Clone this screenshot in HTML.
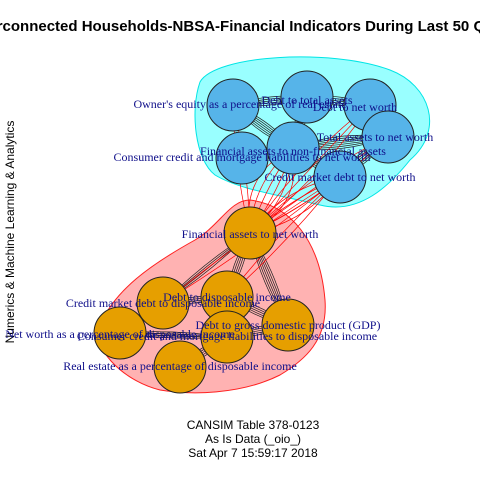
<!DOCTYPE html>
<html><head><meta charset="utf-8"><style>
body{margin:0;background:#fff;width:480px;height:480px;overflow:hidden}
svg{display:block}
.lab{font-family:"Liberation Serif",serif;font-size:12px;fill:#10108a;text-anchor:middle}
.t{font-family:"Liberation Sans",sans-serif}
</style></head><body>
<svg id="g" width="480" height="480">
<text class="t" x="253" y="31" font-size="15" font-weight="bold" text-anchor="middle">Interconnected Households-NBSA-Financial Indicators During Last 50 Quarters</text>
<text class="t" x="14" y="232" font-size="12" text-anchor="middle" transform="rotate(-90 14 232)">Numerics &amp; Machine Learning &amp; Analytics</text>
<path d="M200,82 C215,55 330,48 390,70 C430,85 445,130 410,160 C390,185 360,215 320,205 C280,195 240,190 215,175 C195,160 190,110 200,82Z" fill="#00ffff" fill-opacity="0.4" stroke="#00e5e5"/>
<path d="M250,200 C290,205 320,240 325,300 C328,340 305,360 280,375 C240,395 190,395 160,390 C120,380 90,345 100,325 C115,290 150,265 195,240 C220,225 230,200 250,200Z" fill="#ff0000" fill-opacity="0.3" stroke="#ff2020"/>
<g id="edges"></g><g id="nodes"></g><g id="labels"></g>
<text class="t" x="253" y="429" font-size="12" text-anchor="middle">CANSIM Table 378-0123</text>
<text class="t" x="253" y="443" font-size="12" text-anchor="middle">As Is Data (_oio_)</text>
<text class="t" x="253" y="457" font-size="12" text-anchor="middle">Sat Apr  7 15:59:17 2018</text>
</svg>
<script>
const nodeLabels=["Owner's equity as a percentage of real estate","Debt to total assets","Debt to net worth","Total assets to net worth","Financial assets to non-financial assets","Consumer credit and mortgage liabilities to net worth","Credit market debt to net worth","Financial assets to net worth","Credit market debt to disposable income","Debt to disposable income","Debt to gross domestic product (GDP)","Net worth as a percentage of disposable income","Consumer credit and mortgage liabilities to disposable income","Real estate as a percentage of disposable income"];
const nodeX=[233,307,370,388,293,242,340,250,163,227,288,120,227,180];
const nodeY=[105,97,105,137,148,158,177,233,303,297,325,333,337,367];
const nodeGroup=[0,0,0,0,0,0,0,1,1,1,1,1,1,1];
const labelX=[240,307,355,375,293,242,340,250,163,227,288,120,227,180];
const labelY=[108,104,111,141,155,161,181,238,307,301,329,338,340,370];
const edgeFrom=[0,0,1,1,2,4,4,5,6,3,7,7,7,8,8,9,9,10,11,12,12,7,7,7,7,7,6,6,4];
const edgeTo=[1,4,2,4,3,6,3,4,3,2,8,9,10,9,11,10,12,12,12,13,11,0,4,6,3,2,8,9,1];
const edgeMult=[5,6,5,6,6,6,7,5,6,6,4,5,6,4,4,5,5,5,4,5,4,2,6,4,3,3,2,2,2];
const NS="http://www.w3.org/2000/svg";
const E=document.getElementById('edges'),N=document.getElementById('nodes'),L=document.getElementById('labels');
edgeFrom.forEach((a,i)=>{
  const b=edgeTo[i];const x1=nodeX[a],y1=nodeY[a],x2=nodeX[b],y2=nodeY[b];
  const dx=x2-x1,dy=y2-y1,len=Math.hypot(dx,dy)||1,nx=-dy/len,ny=dx/len;
  const cross=nodeGroup[a]!==nodeGroup[b];
  for(let k=0;k<edgeMult[i];k++){
    const off=(k-(edgeMult[i]-1)/2)*(cross?14:4);
    const p=document.createElementNS(NS,'path');
    p.setAttribute('d',`M${x1},${y1} Q${(x1+x2)/2+nx*off},${(y1+y2)/2+ny*off} ${x2},${y2}`);
    p.setAttribute('fill','none');p.setAttribute('stroke',cross?'#ff0000':'#222');p.setAttribute('stroke-width','0.7');
    
    
    E.appendChild(p);
  }
});
nodeX.forEach((x,i)=>{
  const c=document.createElementNS(NS,'circle');
  c.setAttribute('cx',x);c.setAttribute('cy',nodeY[i]);c.setAttribute('r',26);
  c.setAttribute('fill',nodeGroup[i]?'#E69F00':'#56B4E9');c.setAttribute('stroke','#222');
  
  
  N.appendChild(c);
  const t=document.createElementNS(NS,'text');
  t.setAttribute('class','lab');t.setAttribute('x',labelX[i]);t.setAttribute('y',labelY[i]);
  t.textContent=nodeLabels[i];
  
  
  L.appendChild(t);
});
</script>
</body></html>
